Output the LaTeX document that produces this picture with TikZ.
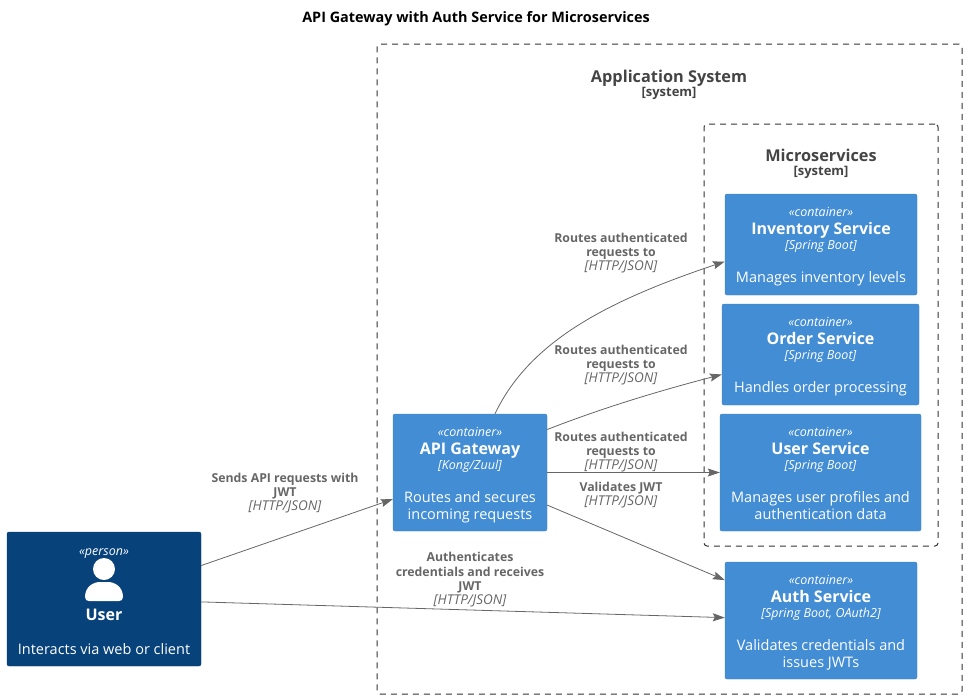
\documentclass[tikz,border=0pt]{standalone}
\usepackage{fontspec}
\setmainfont{Open Sans}
\usepackage{xcolor}
\usetikzlibrary{arrows.meta, calc}
\definecolor{containerblue}{HTML}{438DD5}
\definecolor{containerline}{HTML}{3C7FC0}
\definecolor{personblue}{HTML}{08427B}
\definecolor{personline}{HTML}{073B6F}
\definecolor{labelgrey}{HTML}{666666}
\definecolor{boundarygrey}{HTML}{444444}
\newcommand{\stereofont}{\fontsize{12.5}{14}\selectfont\itshape}
\newcommand{\namefont}{\fontsize{16}{17}\selectfont\bfseries}
\newcommand{\techfont}{\fontsize{12.5}{14}\selectfont\itshape}
\newcommand{\descfont}{\fontsize{14.5}{17}\selectfont}
\tikzset{
  containerbox/.style={draw=containerline, fill=containerblue, rounded corners=2pt, text=white, align=center, inner sep=0pt, font=\descfont},
  personbox/.style={draw=personline, fill=personblue, rounded corners=2pt, text=white, align=center, inner sep=0pt, font=\descfont},
  boundarybox/.style={draw=black!80, line width=1pt, dash pattern=on 6pt off 5pt, rounded corners=3pt, inner sep=0pt},
  boundarytitle/.style={text=boundarygrey, align=center, font=\fontsize{16.3}{16}\selectfont\bfseries},
  flowlabel/.style={text=labelgrey, align=center, font=\fontsize{12.3}{14.5}\selectfont\bfseries},
  flow/.style={draw=labelgrey, line width=0.8pt, -{Stealth[length=12pt, width=8pt, inset=2pt]}},
}
\newcommand{\flowtech}{\\[-0.5pt]{\fontsize{13.5}{14.5}\selectfont\mdseries\itshape [HTTP/JSON]}}
\newcommand{\containertext}[3]{{\stereofont\rule{0pt}{14pt}«container»}\\[1pt]{\namefont #1}\\[-2pt]{\techfont [#2]}\\[16pt]#3}
\newcommand{\lastline}{\rule[-4pt]{0pt}{1pt}}
\begin{document}
\begin{tikzpicture}[x=1pt, y=-1pt]
  \useasboundingbox (0,0) rectangle (966,699);
  \node[font=\fontsize{14.4}{15}\selectfont\bfseries] (title) at (476,19) {API Gateway with Auth Service for Microservices};
  % boundaries
  \node[boundarybox, minimum width=585pt, minimum height=650pt] (appsystem) at (669.5,369) {};
  \node[boundarytitle, anchor=north] (appsystemtitle) at (669,67) {Application System\\[-2pt]{\fontsize{13}{13}\selectfont [system]}};
  \node[boundarybox, minimum width=234pt, minimum height=422pt] (microservices) at (821,335) {};
  \node[boundarytitle, anchor=north] (microservicestitle) at (821,146) {Microservices\\[-2pt]{\fontsize{13}{13}\selectfont [system]}};
  % containers
  \node[containerbox, minimum width=192pt, minimum height=101pt] (inventory) at (821,244.5) {\containertext{Inventory Service}{Spring Boot}{Manages inventory levels}};
  \node[containerbox, minimum width=197pt, minimum height=101pt] (order) at (820.5,354.5) {\containertext{Order Service}{Spring Boot}{Handles order processing}};
  \node[containerbox, minimum width=201pt, minimum height=117pt] (userservice) at (820.5,472.5) {\containertext{User Service}{Spring Boot}{Manages user profiles and\\authentication data\lastline}};
  \node[containerbox, minimum width=192pt, minimum height=117pt] (auth) at (821,620.5) {\containertext{Auth Service}{Spring Boot, OAuth2}{Validates credentials and\\issues JWTs\lastline}};
  \node[containerbox, minimum width=154pt, minimum height=117pt] (gateway) at (470,472.5) {\containertext{API Gateway}{Kong/Zuul}{Routes and secures\\incoming requests\lastline}};
  % person
  \node[personbox, minimum width=194pt, minimum height=134pt] (user) at (104,599) {{\stereofont\rule{0pt}{13pt}«person»}\\[48pt]{\namefont User}\\[17pt]Interacts via web or client};
  \node[circle, fill=white, inner sep=0pt, minimum size=22pt] (userhead) at (104,569) {};
  \fill[white] (85,597) .. controls (85,587) and (93,582) .. (100,582) -- (108,582) .. controls (115,582) and (123,587) .. (123,597) .. controls (123,600) and (121,601) .. (119,601) -- (89,601) .. controls (87,601) and (85,600) .. (85,597);
  % flows
  \draw[flow] (user) -- (gateway);
  \draw[flow] (user) -- (auth);
  \draw[flow] (gateway) -- (auth);
  \draw[flow] (gateway) -- (userservice);
  \draw[flow] ($(gateway.east)+(0,-43)$) .. controls (610,405) and (670,388) .. ($(order.west)+(0,20)$);
  \draw[flow] ($(gateway.north)+(25,0)$) .. controls (530,340) and (610,300) .. ($(inventory.west)+(0,17)$);
  % flow labels
  \node[flowlabel] (inventorylabel) at (621,253) {Routes authenticated\\requests to\flowtech};
  \node[flowlabel] (orderlabel) at (621,365) {Routes authenticated\\requests to\flowtech};
  \node[flowlabel] (userservicelabel) at (621,452) {Routes authenticated\\requests to\flowtech};
  \node[flowlabel] (validatelabel) at (621,495) {Validates JWT\flowtech};
  \node[flowlabel] (senseslabel) at (285,493) {Sends API requests with\\JWT\flowtech};
  \node[flowlabel] (authlabel) at (470,580) {Authenticates\\credentials and receives\\JWT\flowtech};
\end{tikzpicture}
\end{document}
